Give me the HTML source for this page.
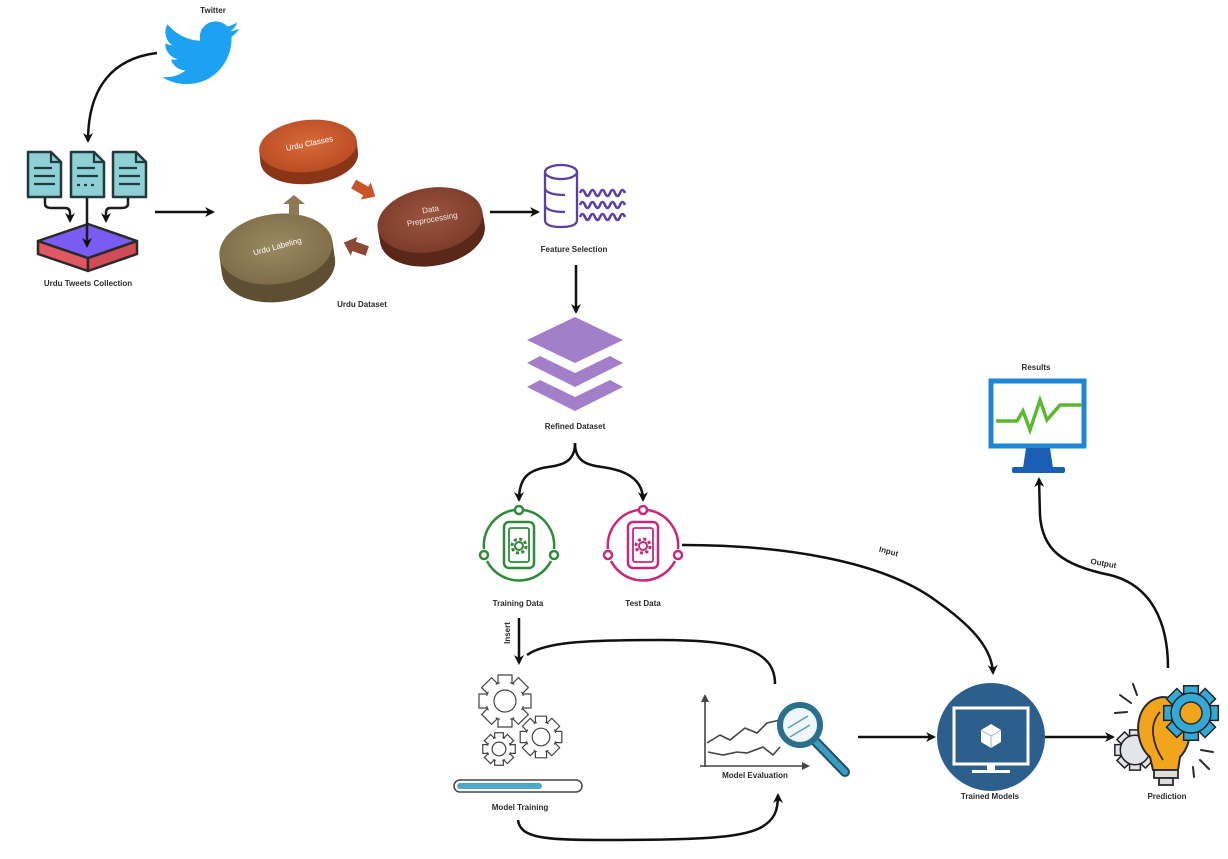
<!DOCTYPE html>
<html><head><meta charset="utf-8"><style>
html,body{margin:0;padding:0;background:#fff;}
svg{display:block;}
text{font-family:"Liberation Sans",sans-serif;font-weight:bold;fill:#2a2a2a;font-size:8px;text-anchor:middle;}
</style></head><body>
<svg width="1228" height="859" viewBox="0 0 1228 859" xmlns="http://www.w3.org/2000/svg">
<defs>
<marker id="a" viewBox="0 0 10 10" refX="8" refY="5" markerWidth="4" markerHeight="4" orient="auto" markerUnits="strokeWidth"><path d="M0,0 L10,5 L0,10 L3,5z" fill="#111"/></marker>
<g id="gearO">
<g fill="#fff" stroke="#444" stroke-width="1.2" vector-effect="non-scaling-stroke">
<rect x="-3.5" y="-13" width="7" height="5" vector-effect="non-scaling-stroke"/>
<rect x="-3.5" y="-13" width="7" height="5" transform="rotate(45)" vector-effect="non-scaling-stroke"/>
<rect x="-3.5" y="-13" width="7" height="5" transform="rotate(90)" vector-effect="non-scaling-stroke"/>
<rect x="-3.5" y="-13" width="7" height="5" transform="rotate(135)" vector-effect="non-scaling-stroke"/>
<rect x="-3.5" y="-13" width="7" height="5" transform="rotate(180)" vector-effect="non-scaling-stroke"/>
<rect x="-3.5" y="-13" width="7" height="5" transform="rotate(225)" vector-effect="non-scaling-stroke"/>
<rect x="-3.5" y="-13" width="7" height="5" transform="rotate(270)" vector-effect="non-scaling-stroke"/>
<rect x="-3.5" y="-13" width="7" height="5" transform="rotate(315)" vector-effect="non-scaling-stroke"/>
</g>
<circle r="9.5" fill="#fff" stroke="#444" stroke-width="1.2" vector-effect="non-scaling-stroke"/>
<rect x="-2.6" y="-9.9" width="5.2" height="2" fill="#fff"/>
<rect x="-2.6" y="-9.9" width="5.2" height="2" fill="#fff" transform="rotate(45)"/>
<rect x="-2.6" y="-9.9" width="5.2" height="2" fill="#fff" transform="rotate(90)"/>
<rect x="-2.6" y="-9.9" width="5.2" height="2" fill="#fff" transform="rotate(135)"/>
<rect x="-2.6" y="-9.9" width="5.2" height="2" fill="#fff" transform="rotate(180)"/>
<rect x="-2.6" y="-9.9" width="5.2" height="2" fill="#fff" transform="rotate(225)"/>
<rect x="-2.6" y="-9.9" width="5.2" height="2" fill="#fff" transform="rotate(270)"/>
<rect x="-2.6" y="-9.9" width="5.2" height="2" fill="#fff" transform="rotate(315)"/>
<circle r="5.5" fill="none" stroke="#444" stroke-width="1.2" vector-effect="non-scaling-stroke"/>
</g>
<g id="gearF">
<g stroke="#222" stroke-width="1.5" vector-effect="non-scaling-stroke">
<rect x="-3.5" y="-13" width="7" height="6" vector-effect="non-scaling-stroke"/>
<rect x="-3.5" y="-13" width="7" height="6" transform="rotate(45)" vector-effect="non-scaling-stroke"/>
<rect x="-3.5" y="-13" width="7" height="6" transform="rotate(90)" vector-effect="non-scaling-stroke"/>
<rect x="-3.5" y="-13" width="7" height="6" transform="rotate(135)" vector-effect="non-scaling-stroke"/>
<rect x="-3.5" y="-13" width="7" height="6" transform="rotate(180)" vector-effect="non-scaling-stroke"/>
<rect x="-3.5" y="-13" width="7" height="6" transform="rotate(225)" vector-effect="non-scaling-stroke"/>
<rect x="-3.5" y="-13" width="7" height="6" transform="rotate(270)" vector-effect="non-scaling-stroke"/>
<rect x="-3.5" y="-13" width="7" height="6" transform="rotate(315)" vector-effect="non-scaling-stroke"/>
</g>
<circle r="9.5" stroke="#222" stroke-width="1.5" vector-effect="non-scaling-stroke"/>
</g>
<radialGradient id="gO" cx="0.5" cy="0.45" r="0.6"><stop offset="0" stop-color="#d66a3a"/><stop offset="1" stop-color="#b84a22"/></radialGradient>
<radialGradient id="gB" cx="0.5" cy="0.45" r="0.6"><stop offset="0" stop-color="#9a5540"/><stop offset="1" stop-color="#7a3a28"/></radialGradient>
<radialGradient id="gL" cx="0.5" cy="0.45" r="0.6"><stop offset="0" stop-color="#9a8a62"/><stop offset="1" stop-color="#7c6a46"/></radialGradient>
</defs>

<!-- Twitter -->
<text x="213" y="13" font-size="7">Twitter</text>
<path transform="translate(159,12) scale(3.4)" fill="#1da1f2" d="M23.643 4.937c-.835.37-1.732.62-2.675.733.962-.576 1.7-1.49 2.048-2.578-.9.534-1.897.922-2.958 1.13-.85-.904-2.06-1.470-3.4-1.470-2.572 0-4.658 2.086-4.658 4.660 0 .364.042.718.12 1.060-3.873-.195-7.304-2.050-9.602-4.868-.4.69-.63 1.490-.63 2.342 0 1.616.823 3.043 2.072 3.878-.764-.025-1.482-.234-2.110-.583v.06c0 2.257 1.605 4.140 3.737 4.568-.392.106-.803.162-1.227.162-.3 0-.593-.028-.877-.082.593 1.850 2.313 3.198 4.352 3.234-1.595 1.250-3.604 1.995-5.786 1.995-.376 0-.747-.022-1.112-.065 2.062 1.323 4.510 2.093 7.140 2.093 8.570 0 13.255-7.098 13.255-13.254 0-.2-.005-.402-.014-.602.910-.658 1.700-1.477 2.323-2.410z"/>
<path d="M157,53 C115,58 88,85 88,141" fill="none" stroke="#111" stroke-width="2.5" marker-end="url(#a)"/>

<!-- Documents -->
<g stroke="#1f3b3d" stroke-width="2.5" fill="#8fd0d6" stroke-linejoin="round">
<path d="M28,152 L51,152 L61,162 L61,197 L28,197 Z"/>
<path d="M71,152 L94,152 L104,162 L104,197 L71,197 Z"/>
<path d="M113,152 L136,152 L146,162 L146,197 L113,197 Z"/>
</g>
<g stroke="#1f3b3d" stroke-width="2.2" fill="none">
<path d="M51,152 L51,162 L61,162"/><path d="M94,152 L94,162 L104,162"/><path d="M136,152 L136,162 L146,162"/>
<path d="M34,168 H52 M34,176 H55 M34,184 H55"/>
<path d="M77,168 H95 M77,176 H98 M77,185 H80 M84,185 H87 M91,185 H94"/>
<path d="M119,168 H137 M119,176 H140 M119,184 H140"/>
</g>
<!-- box -->
<g stroke="#2a2a2a" stroke-width="2.5" stroke-linejoin="round">
<path d="M38,241 L88,258 L88,271 L38,254 Z" fill="#e05864"/>
<path d="M137,241 L88,258 L88,271 L137,254 Z" fill="#d24c58"/>
<path d="M38,241 L88,224 L137,241 L88,258 Z" fill="#7b5cf2"/>
</g>
<g fill="none" stroke="#1c1c1c" stroke-width="2.5">
<path d="M45,198 L45,204 Q45,208 52,208 L65,208 Q70,208 70,213 L70,221" marker-end="url(#a)"/>
<path d="M128,198 L128,204 Q128,208 121,208 L110,208 Q106,208 106,213 L106,221" marker-end="url(#a)"/>
<path d="M87,198 L87,246" marker-end="url(#a)"/>
</g>
<text x="88" y="286">Urdu Tweets Collection</text>
<path d="M155,212 L213,212" stroke="#111" stroke-width="2.5" marker-end="url(#a)"/>

<!-- Urdu Dataset cylinders -->
<g transform="rotate(-6 308 146)">
<ellipse cx="308" cy="158" rx="49" ry="26" fill="#8a3518"/>
<rect x="259" y="146" width="98" height="12" fill="#8a3518"/>
<ellipse cx="308" cy="146" rx="49" ry="26" fill="url(#gO)"/>
</g>
<g transform="rotate(-10 430 220)">
<ellipse cx="430" cy="234" rx="53" ry="32" fill="#5a2818"/>
<rect x="377" y="220" width="106" height="14" fill="#5a2818"/>
<ellipse cx="430" cy="220" rx="53" ry="32" fill="url(#gB)"/>
</g>
<g transform="rotate(-8 276 249)">
<ellipse cx="276" cy="267" rx="57" ry="35" fill="#5f4f32"/>
<rect x="219" y="249" width="114" height="18" fill="#5f4f32"/>
<ellipse cx="276" cy="249" rx="57" ry="35" fill="url(#gL)"/>
</g>
<text x="310" y="146" transform="rotate(-12 310 146)" font-size="7" style="fill:#fff;font-weight:normal">Urdu Classes</text>
<text x="432" y="212" font-size="7" transform="rotate(-10 432 218)" style="fill:#f4e8e0;font-weight:normal">Data</text>
<text x="432" y="222" font-size="7" transform="rotate(-10 432 218)" style="fill:#f4e8e0;font-weight:normal">Preprocessing</text>
<text x="278" y="249" font-size="7" transform="rotate(-15 278 249)" style="fill:#fff;font-weight:normal">Urdu Labeling</text>
<!-- small block arrows -->
<path transform="translate(364,190) rotate(30)" d="M-12,-5 L2,-5 L2,-10 L13,0 L2,10 L2,5 L-12,5 Z" fill="#c8552a"/>
<path transform="translate(356,247) rotate(200)" d="M-12,-5 L2,-5 L2,-10 L13,0 L2,10 L2,5 L-12,5 Z" fill="#8b4a35"/>
<path transform="translate(294,206) rotate(-90)" d="M-10,-5 L2,-5 L2,-11 L11,0 L2,11 L2,5 L-10,5 Z" fill="#8c7a52"/>
<text x="362" y="307">Urdu Dataset</text>
<path d="M490,212 L538,212" stroke="#111" stroke-width="2.5" marker-end="url(#a)"/>

<!-- Feature Selection -->
<g stroke="#5b3fa8" stroke-width="2.3" fill="none">
<ellipse cx="561" cy="172" rx="16" ry="7"/>
<path d="M545,172 L545,220 Q545,227 561,227 Q577,227 577,220 L577,172"/>
<path d="M545,189 Q548,195 565,195 M545,206 Q548,212 565,212"/>
<g stroke-width="2.6">
<path d="M580,193 q2.5,-6 5,0 t5,0 t5,0 t5,0 t5,0 t5,0 t5,0 t5,0 t5,0"/>
<path d="M580,205 q2.5,-6 5,0 t5,0 t5,0 t5,0 t5,0 t5,0 t5,0 t5,0 t5,0"/>
<path d="M580,217 q2.5,-6 5,0 t5,0 t5,0 t5,0 t5,0 t5,0 t5,0 t5,0 t5,0"/>
</g>
</g>
<text x="574" y="252">Feature Selection</text>
<path d="M576,265 L576,312" stroke="#111" stroke-width="2.5" marker-end="url(#a)"/>

<!-- Refined Dataset layers -->
<g fill="#a47fc9">
<polygon points="527,340 575,317 623,340 575,363"/>
<polygon points="527,363 540,356 575,373 610,356 623,363 575,387"/>
<polygon points="527,387 540,380 575,397 610,380 623,387 575,411"/>
</g>
<text x="575" y="429">Refined Dataset</text>
<g fill="none" stroke="#111" stroke-width="2.5">
<path d="M575,443 C575,460 565,465 548,467 C528,470 519,478 519,500" marker-end="url(#a)"/>
<path d="M575,443 C575,460 585,465 602,467 C624,470 643,478 643,500" marker-end="url(#a)"/>
</g>

<!-- Training Data -->
<g transform="translate(519,546)" stroke="#2f8a3a" fill="none" stroke-width="2.5">
<path d="M-5,-36 A36,36 0 0 0 -35,3"/>
<path d="M-32,15 A36,36 0 0 0 32,15"/>
<path d="M5,-36 A36,36 0 0 1 35,3"/>
<circle cx="0" cy="-36" r="4" fill="#fff"/>
<circle cx="-35" cy="9" r="4" fill="#fff"/>
<circle cx="35" cy="9" r="4" fill="#fff"/>
<rect x="-15" y="-24" width="30" height="46" rx="5"/>
<rect x="-10" y="-18" width="20" height="34" rx="2" stroke-width="1.8"/>
<circle r="4" stroke-width="2"/>
<circle r="7" stroke-width="3" stroke-dasharray="3 2.5"/>
</g>
<text x="518" y="606">Training Data</text>
<!-- Test Data -->
<g transform="translate(643,546)" stroke="#c8287a" fill="none" stroke-width="2.5">
<path d="M-5,-36 A36,36 0 0 0 -35,3"/>
<path d="M-32,15 A36,36 0 0 0 32,15"/>
<path d="M5,-36 A36,36 0 0 1 35,3"/>
<circle cx="0" cy="-36" r="4" fill="#fff"/>
<circle cx="-35" cy="9" r="4" fill="#fff"/>
<circle cx="35" cy="9" r="4" fill="#fff"/>
<rect x="-15" y="-24" width="30" height="46" rx="5"/>
<rect x="-10" y="-18" width="20" height="34" rx="2" stroke-width="1.8"/>
<circle r="4" stroke-width="2"/>
<circle r="7" stroke-width="3" stroke-dasharray="3 2.5"/>
</g>
<text x="643" y="606">Test Data</text>

<!-- Input curve -->
<path d="M682,545 C780,545 880,560 935,600 C975,628 992,650 993,673" fill="none" stroke="#111" stroke-width="2.5" marker-end="url(#a)"/>
<text x="888" y="554" font-size="7" transform="rotate(15 888 554)">Input</text>

<!-- Insert -->
<path d="M519,618 L519,663" stroke="#111" stroke-width="2.5" marker-end="url(#a)"/>
<text x="510" y="633" font-size="6.5" transform="rotate(-90 510 633)">Insert</text>
<!-- feedback loop -->
<path d="M775,684 C775,650 740,640 660,640 C585,640 545,642 527,655" fill="none" stroke="#111" stroke-width="2.5"/>

<!-- Model Training gears -->
<use href="#gearO" transform="translate(505,701) scale(2)"/>
<use href="#gearO" transform="translate(541,737) scale(1.6)"/>
<use href="#gearO" transform="translate(499,749) scale(1.25)"/>
<rect x="454" y="780" width="128" height="12" rx="6" fill="#fff" stroke="#444" stroke-width="1.5"/>
<rect x="457" y="783" width="85" height="6" rx="3" fill="#4ea8c9"/>
<text x="520" y="810">Model Training</text>
<path d="M518,820 C520,838 545,840 600,840 C700,840 740,838 760,828 C775,820 778,810 778,795" fill="none" stroke="#111" stroke-width="2.5" marker-end="url(#a)"/>

<!-- Model Evaluation -->
<g stroke="#444" stroke-width="1.6" fill="none">
<path d="M705,767 L705,700"/>
<path d="M700,766 L806,766"/>
<path d="M707,743 L720,735 L730,740 L745,728 L757,733 L767,723 L780,720"/>
<path d="M708,752 L723,755 L737,752 L747,753 L763,747 L773,755 L780,747"/>
</g>
<path d="M705,694 L701,702 L709,702 Z M810,766 L802,762 L802,770 Z" fill="#444"/>
<line x1="816" y1="742" x2="845" y2="772" stroke="#1f4f60" stroke-width="10" stroke-linecap="round"/>
<line x1="816" y1="742" x2="845" y2="772" stroke="#3a9cc0" stroke-width="6" stroke-linecap="round"/>
<circle cx="800" cy="725" r="20" fill="#e4f1f6" fill-opacity="0.6" stroke="#2a6f8c" stroke-width="6"/>
<path d="M788,728 L808,716 M790,737 L810,725" stroke="#5a9fb8" stroke-width="1.5"/>
<text x="755" y="778" font-size="7.5">Model Evaluation</text>
<path d="M858,737 L934,737" stroke="#111" stroke-width="2.5" marker-end="url(#a)"/>

<!-- Trained Models -->
<circle cx="991" cy="737" r="54" fill="#2c5f8c"/>
<rect x="954" y="708" width="74" height="56" fill="none" stroke="#fff" stroke-width="3"/>
<rect x="987" y="764" width="8" height="7" fill="#fff"/>
<rect x="972" y="770" width="38" height="3" fill="#fff"/>
<polygon points="991,724 1001,730 1001,742 991,748 981,742 981,730" fill="#fff"/>
<path d="M981,730 L991,736 L1001,730 M991,736 L991,748" stroke="#9bb" stroke-width="1" fill="none"/>
<text x="990" y="799">Trained Models</text>
<path d="M1045,737 L1113,737" stroke="#111" stroke-width="2.5" marker-end="url(#a)"/>

<!-- Prediction -->
<use href="#gearF" transform="translate(1135,750) scale(1.55)" fill="#e4e4ec"/>
<path d="M1150,757 C1132,742 1133,700 1163,697 C1193,698 1197,740 1180,757 L1178,770 L1153,770 Z" fill="#f2a51c" stroke="#2a2a2a" stroke-width="2"/>
<path d="M1160,712 C1148,725 1153,745 1163,760" fill="none" stroke="#2a2a2a" stroke-width="1.8"/>
<rect x="1154" y="770" width="24" height="8" fill="#ddd" stroke="#2a2a2a" stroke-width="1.8"/>
<rect x="1159" y="778" width="14" height="7" fill="#ddd" stroke="#2a2a2a" stroke-width="1.8"/>
<use href="#gearF" transform="translate(1191,713) scale(2.1)" fill="#35a9d6"/>
<circle cx="1191" cy="713" r="11" fill="#f2a51c" stroke="#2a2a2a" stroke-width="1.5"/>
<g stroke="#2a2a2a" stroke-width="2" stroke-linecap="round">
<line x1="1120" y1="695" x2="1131" y2="703"/>
<line x1="1133" y1="684" x2="1137" y2="695"/>
<line x1="1115" y1="713" x2="1127" y2="712"/>
<line x1="1201" y1="750" x2="1213" y2="752"/>
<line x1="1200" y1="760" x2="1209" y2="769"/>
<line x1="1193" y1="767" x2="1194" y2="777"/>
</g>
<text x="1167" y="799">Prediction</text>

<!-- Output curve -->
<path d="M1168,668 C1168,620 1150,585 1110,575 C1060,565 1042,548 1040,515 L1039,479" fill="none" stroke="#111" stroke-width="2.5" marker-end="url(#a)"/>
<text x="1103" y="566" font-size="7" transform="rotate(10 1103 566)">Output</text>

<!-- Results -->
<text x="1036" y="370" font-size="7.5">Results</text>
<rect x="991" y="381" width="93" height="65" fill="#fff" stroke="#1f86d6" stroke-width="5"/>
<polygon points="1026,448 1050,448 1053,468 1023,468" fill="#1a5fb3"/>
<rect x="1012" y="467" width="53" height="6" rx="2" fill="#1a5fb3"/>
<polyline points="996,421 1017,421 1023,411 1030,430 1040,400 1047,420 1060,405 1082,405" fill="none" stroke="#5cb82e" stroke-width="3.5"/>
</svg>
</body></html>
